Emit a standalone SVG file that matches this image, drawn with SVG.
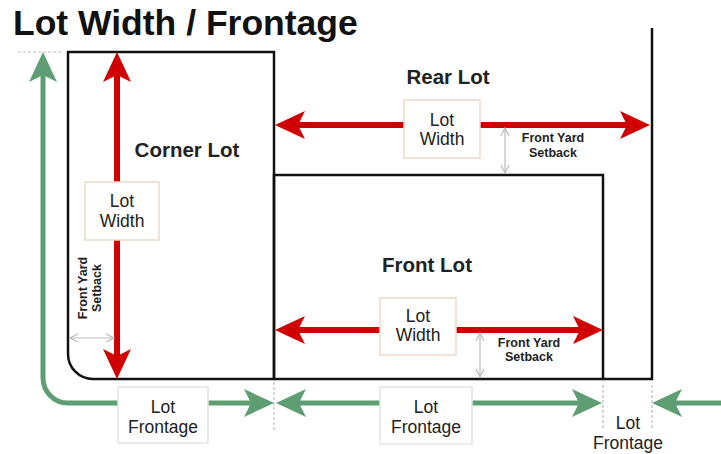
<svg xmlns="http://www.w3.org/2000/svg" width="721" height="454" viewBox="0 0 721 454">
<defs>
<style>
.lot{fill:none;stroke:#111;stroke-width:2.5}
.red{fill:none;stroke:#d00000;stroke-width:6}
.grn{fill:none;stroke:#5e9e72;stroke-width:5}
.sb{fill:none;stroke:#bbb;stroke-width:1.2}
.dot{fill:none;stroke:#bbb;stroke-width:1.2;stroke-dasharray:3 2}
.wbox{fill:#fff;stroke:#ecd9c8;stroke-width:1.5}
.fbox{fill:#fff;stroke:#dfe6df;stroke-width:1.5}
.t{font-family:"Liberation Sans",Arial,sans-serif;fill:#222;text-anchor:middle}
.bt{font-size:17.5px}
.lt{font-size:20.5px;font-weight:bold}
.st{font-size:12.5px;font-weight:bold}
</style>
<marker id="ar" markerUnits="userSpaceOnUse" viewBox="0 0 30 28" markerWidth="30" markerHeight="28" refX="20" refY="14" orient="auto-start-reverse">
<path d="M0,0 L30,14 L0,28 L7,14 Z" fill="#d00000"/>
</marker>
<marker id="ag" markerUnits="userSpaceOnUse" viewBox="0 0 30 28" markerWidth="30" markerHeight="28" refX="20" refY="14" orient="auto-start-reverse">
<path d="M0,0 L30,14 L0,28 L7,14 Z" fill="#5e9e72"/>
</marker>
<marker id="as" markerUnits="userSpaceOnUse" viewBox="0 0 10 10" markerWidth="10" markerHeight="10" refX="9" refY="5" orient="auto-start-reverse">
<path d="M1,1 L9,5 L1,9" fill="none" stroke="#bbb" stroke-width="1.2"/>
</marker>
</defs>
<rect width="721" height="454" fill="#fff"/>
<text x="13" y="35" font-family="Liberation Sans,Arial,sans-serif" font-weight="bold" font-size="35.5" fill="#111">Lot Width / Frontage</text>
<g id="lots">
<path class="lot" d="M68,52 H274 V379 H93 A25,25 0 0 1 68,354 Z"/>
<path class="lot" d="M274,379 V175 H603 V379"/>
<path class="lot" d="M274,379 H652 V28"/>
</g>
<g id="guides">
<line class="dot" x1="18" y1="52" x2="62" y2="52"/>
<line class="dot" x1="274" y1="382" x2="274" y2="430"/>
<line class="dot" x1="603" y1="385" x2="603" y2="430"/>
<line class="dot" x1="652" y1="385" x2="652" y2="430"/>
</g>
<g id="connectors">
<line class="red" x1="117" y1="62" x2="117" y2="369" marker-start="url(#ar)" marker-end="url(#ar)"/>
<line class="red" x1="285" y1="125" x2="640" y2="125" marker-start="url(#ar)" marker-end="url(#ar)"/>
<line class="red" x1="285" y1="330" x2="593" y2="330" marker-start="url(#ar)" marker-end="url(#ar)"/>
<path class="grn" d="M43,62 V378 A25,25 0 0 0 68,403 H264" marker-start="url(#ag)" marker-end="url(#ag)"/>
<line class="grn" x1="286" y1="403" x2="592" y2="403" marker-start="url(#ag)" marker-end="url(#ag)"/>
<line class="grn" x1="721" y1="403" x2="662" y2="403" marker-end="url(#ag)"/>
<line class="sb" x1="505" y1="128" x2="505" y2="173" marker-start="url(#as)" marker-end="url(#as)"/>
<line class="sb" x1="480" y1="333" x2="480" y2="377" marker-start="url(#as)" marker-end="url(#as)"/>
<line class="sb" x1="70" y1="338" x2="114" y2="338" marker-start="url(#as)" marker-end="url(#as)"/>
</g>
<g id="corner-lot">
<text class="t lt" x="187" y="157">Corner Lot</text>
</g>
<g id="rear-lot">
<text class="t lt" x="448" y="84">Rear Lot</text>
</g>
<g id="front-lot">
<text class="t lt" x="427" y="272">Front Lot</text>
</g>
<g id="corner-width">
<rect class="wbox" x="85" y="182" width="74" height="58"/>
<text class="t bt" x="122" y="207">Lot</text>
<text class="t bt" x="122" y="227">Width</text>
</g>
<g id="rear-width">
<rect class="wbox" x="404" y="100" width="76" height="58"/>
<text class="t bt" x="442" y="126">Lot</text>
<text class="t bt" x="442" y="145">Width</text>
</g>
<g id="front-width">
<rect class="wbox" x="380" y="298" width="76" height="57"/>
<text class="t bt" x="418" y="322">Lot</text>
<text class="t bt" x="418" y="341">Width</text>
</g>
<g id="corner-frontage">
<rect class="fbox" x="118" y="387" width="90" height="56"/>
<text class="t bt" x="163" y="413">Lot</text>
<text class="t bt" x="163" y="433">Frontage</text>
</g>
<g id="front-frontage">
<rect class="fbox" x="380" y="387" width="92" height="57"/>
<text class="t bt" x="426" y="413">Lot</text>
<text class="t bt" x="426" y="433">Frontage</text>
</g>
<g id="rear-frontage">
<text class="t bt" x="628" y="429">Lot</text>
<text class="t bt" x="628" y="449">Frontage</text>
</g>
<g id="rear-setback">
<text class="t st" x="553" y="142">Front Yard</text>
<text class="t st" x="553" y="157">Setback</text>
</g>
<g id="front-setback">
<text class="t st" x="529" y="347">Front Yard</text>
<text class="t st" x="529" y="361">Setback</text>
</g>
<g id="corner-setback" transform="translate(87,288) rotate(-90)">
<text class="t st" x="0" y="0">Front Yard</text>
<text class="t st" x="0" y="14">Setback</text>
</g>
</svg>
